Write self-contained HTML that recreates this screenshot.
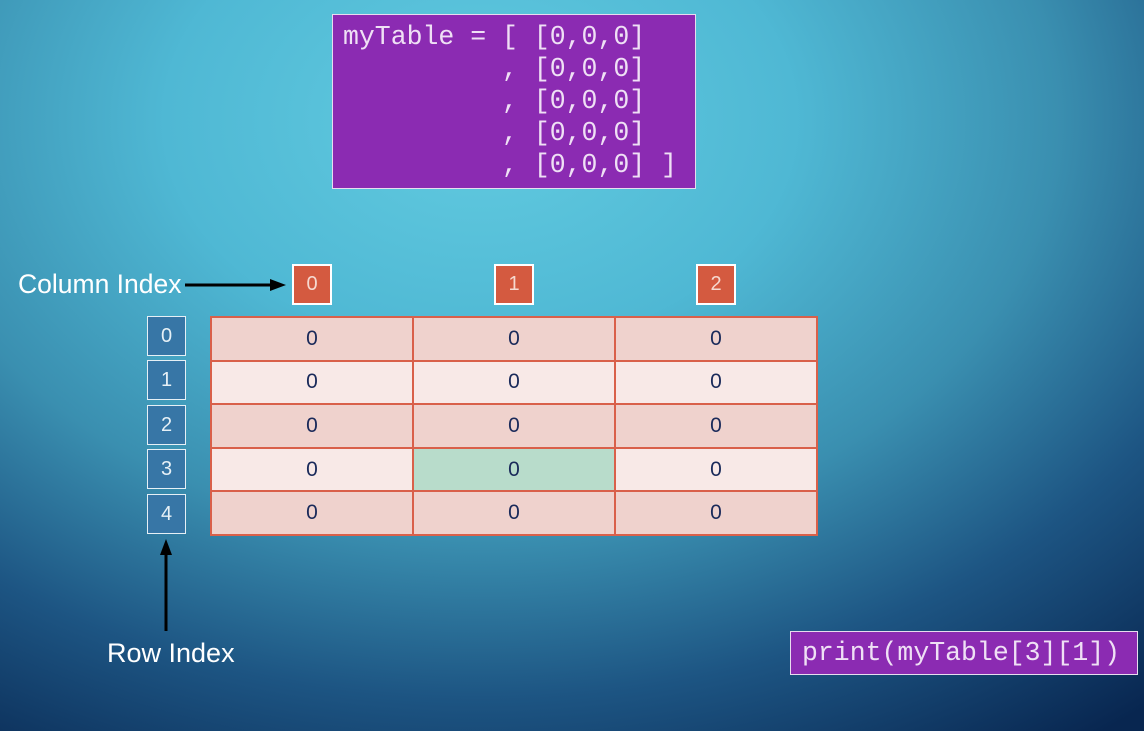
<!DOCTYPE html>
<html><head><meta charset="utf-8"><style>
html,body{margin:0;padding:0;}
body{width:1144px;height:731px;position:relative;overflow:hidden;
background:radial-gradient(ellipse 1050px 760px at 480px 120px,#62cbe0 0%,#4fb8d4 30%,#3a8fb0 55%,#1d5583 76%,#082650 100%);
font-family:"Liberation Sans",sans-serif;}
.abs{position:absolute;box-sizing:border-box;}
.code{left:332px;top:14px;width:364px;height:175px;background:#8b2bb2;border:1px solid #e8dcef;
font-family:"Liberation Mono",monospace;font-size:26.5px;color:#efe0f5;line-height:32px;padding:6px 0 0 10px;white-space:pre;}
.ci{width:40px;height:41px;background:#d45a40;border:2px solid #fff;color:#f6d9d0;font-size:20px;text-align:center;line-height:37px;}
.ri{left:147px;width:39px;height:40px;background:#3776a6;border:1px solid #e6f0f6;color:#e6f0f6;font-size:20px;text-align:center;line-height:38px;}
table{position:absolute;left:210px;top:316px;border-collapse:collapse;}
td{width:200px;height:41.6px;border:2px solid #d9604a;text-align:center;font-size:21px;color:#1a2a5a;padding:0;}
tr.a td{background:#efd2cd;} tr.b td{background:#f8e9e7;}
td.g{background:#b8dccb!important;}
.lbl{color:#fff;}
</style></head><body>
<div class="abs code">myTable = [ [0,0,0]
          , [0,0,0]
          , [0,0,0]
          , [0,0,0]
          , [0,0,0] ]</div>

<div class="abs lbl" style="left:18px;top:269px;font-size:26.5px;">Column Index</div>
<svg class="abs" style="left:0;top:0" width="1144" height="731">
<line x1="185" y1="285" x2="272" y2="285" stroke="#000" stroke-width="3"/>
<polygon points="286,285 270,279 270,291" fill="#000"/>
<line x1="166" y1="631" x2="166" y2="552" stroke="#000" stroke-width="3"/>
<polygon points="166,539 160,555 172,555" fill="#000"/>
</svg>
<div class="abs ci" style="left:292px;top:264px;">0</div>
<div class="abs ci" style="left:494px;top:264px;">1</div>
<div class="abs ci" style="left:696px;top:264px;">2</div>

<div class="abs ri" style="top:316px;">0</div>
<div class="abs ri" style="top:360px;">1</div>
<div class="abs ri" style="top:405px;">2</div>
<div class="abs ri" style="top:449px;">3</div>
<div class="abs ri" style="top:494px;">4</div>

<table>
<tr class="a"><td>0</td><td>0</td><td>0</td></tr>
<tr class="b"><td>0</td><td>0</td><td>0</td></tr>
<tr class="a"><td>0</td><td>0</td><td>0</td></tr>
<tr class="b"><td>0</td><td class="g">0</td><td>0</td></tr>
<tr class="a"><td>0</td><td>0</td><td>0</td></tr>
</table>

<div class="abs lbl" style="left:107px;top:638px;font-size:27px;">Row Index</div>

<div class="abs" style="left:790px;top:631px;width:348px;height:44px;background:#8b2bb2;border:1px solid #e8dcef;font-family:'Liberation Mono',monospace;font-size:26.5px;color:#efe0f5;line-height:42px;padding-left:11px;white-space:pre;">print(myTable[3][1])</div>
</body></html>
